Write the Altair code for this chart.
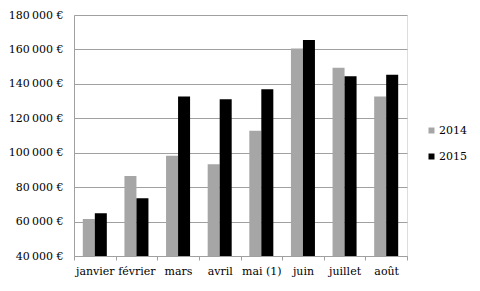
import altair as alt
import pandas as pd

months = ["janvier", "février", "mars", "avril", "mai (1)", "juin", "juillet", "août"]
v2014 = [61500, 86500, 98200, 93300, 112700, 160600, 149400, 132700]
v2015 = [64800, 73600, 132700, 131000, 136800, 165500, 144400, 145300]
years = ["2014", "2015"]
colors = ["#a6a6a6", "#000000"]

rows = []
for m, a, b in zip(months, v2014, v2015):
    rows.append({"mois": m, "annee": "2014", "valeur": a})
    rows.append({"mois": m, "annee": "2015", "valeur": b})
df = pd.DataFrame(rows)

FONT = "DejaVu Serif"
FS = 11

chart = alt.Chart(df).mark_bar(clip=True).encode(
    x=alt.X("mois:N", sort=months, title=None,
            scale=alt.Scale(paddingInner=0, paddingOuter=0),
            axis=alt.Axis(labelAngle=0, tickBand="extent", tickSize=4, tickColor="#a0a0a0",
                          domainColor="#a0a0a0", labelPadding=5, labelFontSize=FS,
                          labelFont=FONT, labelColor="#000", grid=False)),
    xOffset=alt.XOffset("annee:N", sort=years,
                        scale=alt.Scale(paddingInner=0, paddingOuter=0.733)),
    y=alt.Y("valeur:Q", title=None,
            scale=alt.Scale(domain=[40000, 180000], nice=False, zero=False),
            axis=alt.Axis(values=list(range(40000, 180001, 20000)),
                          labelExpr="replace(format(datum.value, ',.0f'), ',', '\u2009') + '\u00a0€'",
                          ticks=False, labelPadding=11, labelFontSize=FS, labelFont=FONT,
                          labelColor="#000", gridColor="#a0a0a0", domainColor="#a0a0a0")),
    color=alt.Color("annee:N", sort=years, title=None,
                    scale=alt.Scale(domain=years, range=colors),
                    legend=alt.Legend(orient="none", legendX=352, legendY=110,
                                      symbolType="square", symbolSize=36, symbolStrokeWidth=0,
                                      labelFont=FONT, labelFontSize=FS, labelColor="#000",
                                      labelOffset=2, rowPadding=14, padding=0)),
).properties(
    width=333, height=241,
    autosize=alt.AutoSizeParams(type="none"),
    padding={"left": 74, "top": 15, "right": 73, "bottom": 35},
).configure_view(stroke=None).configure(background="white", font=FONT)

chart.save("out.html", embed_options={"renderer": "svg", "actions": False})
